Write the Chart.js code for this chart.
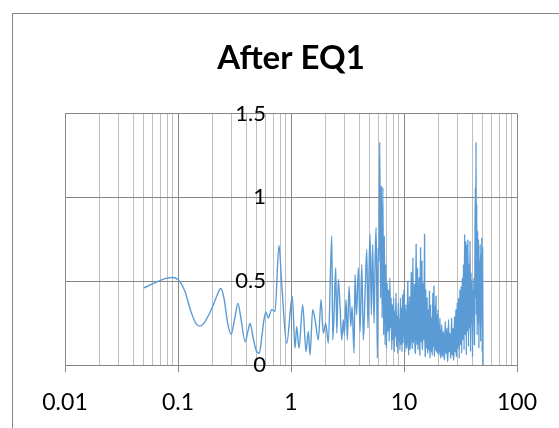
<!DOCTYPE html>
<html>
<head>
<meta charset="utf-8">
<script src="https://cdn.jsdelivr.net/npm/chart.js@4"></script>
<style>
  html, body { margin: 0; padding: 0; background: #ffffff; }
  canvas { display: block; }
</style>
</head>
<body>
<canvas id="spectrum" width="559" height="428"></canvas>
<script>
// Fourier amplitude spectrum recorded after EQ1 (frequency in Hz, amplitude).
const chartTitle = 'After EQ1';

// 0.05 - 1.1 Hz: smooth long-period part
const lowFreqHz = [0.050, 0.060, 0.070, 0.080, 0.088, 0.100, 0.115, 0.130, 0.145, 0.155,
  0.170, 0.199, 0.220, 0.239, 0.255, 0.275, 0.295, 0.318, 0.339, 0.360,
  0.393, 0.415, 0.435, 0.460, 0.490, 0.524, 0.550, 0.576, 0.600, 0.629,
  0.674, 0.722, 0.783, 0.830, 0.916, 1.027, 1.085];
const lowAmp = [0.46, 0.485, 0.505, 0.518, 0.522, 0.51, 0.44, 0.32, 0.245, 0.232,
  0.25, 0.337, 0.41, 0.456, 0.40, 0.25, 0.183, 0.28, 0.367, 0.28,
  0.139, 0.20, 0.248, 0.17, 0.09, 0.07, 0.16, 0.268, 0.317, 0.28,
  0.33, 0.32, 0.714, 0.47, 0.129, 0.41, 0.10];

// 1.1 - 6 Hz
const midFreqHz = [1.123, 1.177, 1.269, 1.358, 1.423, 1.473, 1.556, 1.632, 1.745, 1.844,
  1.932, 2.029, 2.140, 2.294, 2.341, 2.404, 2.489, 2.540, 2.624, 2.716,
  2.812, 2.906, 2.965, 3.071, 3.153, 3.265, 3.380, 3.470, 3.614, 3.685,
  3.800, 3.947, 4.086, 4.229, 4.370, 4.520, 4.683, 4.800, 4.900, 5.010,
  5.140, 5.280, 5.430, 5.550, 5.660, 5.740, 5.810, 5.900];
const midAmp = [0.23, 0.10, 0.36, 0.08, 0.20, 0.06, 0.33, 0.27, 0.15, 0.39,
  0.19, 0.25, 0.13, 0.77, 0.15, 0.31, 0.58, 0.19, 0.51, 0.35,
  0.15, 0.27, 0.18, 0.39, 0.15, 0.47, 0.23, 0.35, 0.07, 0.54,
  0.30, 0.58, 0.20, 0.60, 0.15, 0.42, 0.69, 0.22, 0.55, 0.78,
  0.30, 0.72, 0.25, 0.62, 0.82, 0.45, 0.04, 0.70];

// 6 - 10 Hz
const bandAFreqHz = [6.0, 6.1, 6.2, 6.3, 6.4, 6.5, 6.6, 6.7, 6.8, 6.9,
  7.0, 7.1, 7.2, 7.3, 7.4, 7.5, 7.6, 7.7, 7.8, 7.9,
  8.0, 8.1, 8.2, 8.3, 8.4, 8.5, 8.6, 8.7, 8.8, 8.9,
  9.0, 9.1, 9.2, 9.3, 9.4, 9.5, 9.6, 9.7, 9.8, 9.9];
const bandAAmp = [0.62, 1.33, 0.40, 1.07, 0.28, 1.06, 0.18, 0.77, 0.12, 0.60,
  0.10, 0.49, 0.20, 0.45, 0.14, 0.52, 0.22, 0.40, 0.09, 0.36,
  0.15, 0.40, 0.08, 0.32, 0.17, 0.43, 0.11, 0.29, 0.07, 0.37,
  0.14, 0.27, 0.09, 0.40, 0.12, 0.34, 0.08, 0.42, 0.13, 0.37];

// 10 - 20 Hz
const bandBFreqHz = [10.0, 10.1, 10.2, 10.3, 10.4, 10.5, 10.6, 10.7, 10.8, 10.9,
  11.0, 11.1, 11.2, 11.3, 11.4, 11.5, 11.6, 11.7, 11.8, 11.9,
  12.0, 12.1, 12.2, 12.3, 12.4, 12.5, 12.6, 12.7, 12.8, 12.9,
  13.0, 13.1, 13.2, 13.3, 13.4, 13.5, 13.6, 13.7, 13.8, 13.9,
  14.0, 14.1, 14.2, 14.3, 14.4, 14.5, 14.6, 14.7, 14.8, 14.9,
  15.0, 15.1, 15.2, 15.3, 15.4, 15.5, 15.6, 15.7, 15.8, 15.9,
  16.0, 16.1, 16.2, 16.3, 16.4, 16.5, 16.6, 16.7, 16.8, 16.9,
  17.0, 17.1, 17.2, 17.3, 17.4, 17.5, 17.6, 17.7, 17.8, 17.9,
  18.0, 18.1, 18.2, 18.3, 18.4, 18.5, 18.6, 18.7, 18.8, 18.9,
  19.0, 19.1, 19.2, 19.3, 19.4, 19.5, 19.6, 19.7, 19.8, 19.9];
const bandBAmp = [0.45, 0.18, 0.08, 0.27, 0.36, 0.10, 0.12, 0.30, 0.50, 0.16,
  0.06, 0.25, 0.41, 0.09, 0.15, 0.34, 0.55, 0.21, 0.10, 0.38,
  0.64, 0.13, 0.20, 0.31, 0.48, 0.11, 0.07, 0.40, 0.72, 0.24,
  0.12, 0.35, 0.58, 0.09, 0.18, 0.29, 0.52, 0.17, 0.06, 0.33,
  0.70, 0.22, 0.14, 0.39, 0.62, 0.12, 0.09, 0.28, 0.49, 0.15,
  0.20, 0.36, 0.78, 0.19, 0.05, 0.26, 0.45, 0.10, 0.13, 0.24,
  0.40, 0.15, 0.07, 0.22, 0.33, 0.09, 0.16, 0.27, 0.44, 0.12,
  0.04, 0.21, 0.36, 0.08, 0.11, 0.24, 0.28, 0.10, 0.06, 0.23,
  0.43, 0.11, 0.14, 0.30, 0.47, 0.13, 0.05, 0.20, 0.35, 0.09,
  0.12, 0.26, 0.41, 0.14, 0.08, 0.19, 0.30, 0.07, 0.10, 0.22];

// 20 - 30 Hz
const bandCFreqHz = [20.0, 20.2, 20.4, 20.6, 20.8, 21.0, 21.2, 21.4, 21.6, 21.8,
  22.0, 22.2, 22.4, 22.6, 22.8, 23.0, 23.2, 23.4, 23.6, 23.8,
  24.0, 24.2, 24.4, 24.6, 24.8, 25.0, 25.2, 25.4, 25.6, 25.8,
  26.0, 26.2, 26.4, 26.6, 26.8, 27.0, 27.2, 27.4, 27.6, 27.8,
  28.0, 28.2, 28.4, 28.6, 28.8, 29.0, 29.2, 29.4, 29.6, 29.8];
const bandCAmp = [0.33, 0.12, 0.06, 0.18, 0.28, 0.09, 0.04, 0.15, 0.24, 0.05,
  0.08, 0.17, 0.20, 0.06, 0.03, 0.14, 0.26, 0.10, 0.07, 0.16,
  0.22, 0.05, 0.02, 0.13, 0.27, 0.08, 0.09, 0.18, 0.19, 0.04,
  0.04, 0.15, 0.28, 0.10, 0.06, 0.17, 0.22, 0.05, 0.03, 0.14,
  0.29, 0.12, 0.08, 0.19, 0.33, 0.07, 0.05, 0.21, 0.37, 0.11];

// 30 - 50 Hz
const bandDFreqHz = [30.0, 30.4, 30.8, 31.2, 31.6,
  32.0, 32.4, 32.8, 33.2, 33.6, 34.0, 34.4, 34.8, 35.2, 35.6,
  36.0, 36.4, 36.8, 37.2, 37.6, 38.0, 38.4, 38.8, 39.2, 39.6,
  40.0, 40.4, 40.8, 41.2, 41.6, 42.0, 42.4, 42.8, 43.1, 43.4,
  43.7, 44.0, 44.4, 44.8, 45.2, 45.6, 46.0, 46.4, 46.8, 47.2,
  47.6, 48.0, 48.4, 48.8, 49.2, 49.6, 50.0];
const bandDAmp = [0.10, 0.40, 0.04, 0.45, 0.12,
  0.47, 0.07, 0.52, 0.15, 0.60, 0.09, 0.78, 0.18, 0.74, 0.06,
  0.72, 0.20, 0.75, 0.11, 0.60, 0.22, 0.74, 0.08, 0.55, 0.25,
  0.50, 0.05, 0.45, 0.30, 0.52, 0.12, 0.57, 1.06, 0.40, 1.33,
  0.30, 0.96, 0.18, 0.80, 0.25, 0.75, 0.10, 0.62, 0.30, 0.72,
  0.14, 0.66, 0.35, 0.76, 0.08, 0.70, 0.00];

// Axis labels
const xDecades = [0.01, 0.1, 1, 10, 100];
const xTickLabels = ['0.01', '0.1', '1', '10', '100'];
const yTickValues = [0, 0.5, 1, 1.5];
const yTickLabels = ['0', '0.5', '1', '1.5'];

// The value axis crosses at 1 Hz; its labels sit a little to the left of that line.
const yLabelAnchorHz = 0.6;

const freqHz = [].concat(lowFreqHz, midFreqHz, bandAFreqHz, bandBFreqHz, bandCFreqHz, bandDFreqHz);
const amplitude = [].concat(lowAmp, midAmp, bandAAmp, bandBAmp, bandCAmp, bandDAmp);
const points = freqHz.map((f, i) => ({ x: f, y: amplitude[i] }));

// 1..9 x 10^n grid positions for the log axis
const xGridValues = [];
for (let d = 0; d < xDecades.length - 1; d++) {
  for (let m = 1; m <= 9; m++) xGridValues.push(m * xDecades[d]);
}
xGridValues.push(xDecades[xDecades.length - 1]);

const decadeIndex = v => {
  for (let i = 0; i < xDecades.length; i++) {
    if (Math.abs(v - xDecades[i]) < xDecades[i] * 1e-6) return i;
  }
  return -1;
};

const MAJOR = '#878787';
const MINOR = '#bfbfbf';

const framePlugin = {
  id: 'frame',
  beforeDraw(chart) {
    const ctx = chart.ctx;
    ctx.save();
    ctx.fillStyle = '#ffffff';
    ctx.fillRect(0, 0, chart.width, chart.height);
    ctx.strokeStyle = MAJOR;
    ctx.lineWidth = 1;
    ctx.strokeRect(12.5, 13.5, chart.width + 20, chart.height + 20);
    ctx.restore();
  }
};

new Chart(document.getElementById('spectrum'), {
  type: 'line',
  data: {
    datasets: [{
      data: points,
      borderColor: '#5b9bd5',
      borderWidth: 1.4,
      pointRadius: 0,
      fill: false,
      cubicInterpolationMode: 'monotone'
    }]
  },
  options: {
    responsive: false,
    animation: false,
    events: [],
    layout: { padding: { top: 39, left: 65, right: 42, bottom: 0 } },
    plugins: {
      legend: { display: false },
      tooltip: { enabled: false },
      title: {
        display: true,
        text: chartTitle,
        color: '#000000',
        font: { family: 'Lato', size: 33, weight: 'bold' },
        padding: { top: 0, bottom: 35 }
      }
    },
    scales: {
      x: {
        type: 'logarithmic',
        min: 0.01,
        max: 100,
        afterBuildTicks: s => { s.ticks = xGridValues.map(v => ({ value: v, major: decadeIndex(v) >= 0 })); },
        afterFit: s => { s.height = 63; },
        ticks: {
          autoSkip: false,
          maxRotation: 0,
          padding: 17,
          color: '#000000',
          font: { family: 'Lato', size: 23 },
          callback: v => { const i = decadeIndex(v); return i >= 0 ? xTickLabels[i] : ''; }
        },
        grid: {
          color: c => (c.tick && decadeIndex(c.tick.value) >= 0 ? MAJOR : MINOR),
          tickColor: c => (c.tick && decadeIndex(c.tick.value) >= 0 ? MAJOR : 'rgba(0,0,0,0)'),
          tickLength: 7,
          lineWidth: 1
        },
        border: { color: MAJOR, width: 1 }
      },
      y: {
        type: 'linear',
        position: { x: yLabelAnchorHz },
        min: 0,
        max: 1.5,
        afterBuildTicks: s => { s.ticks = yTickValues.map(v => ({ value: v })); },
        ticks: {
          padding: 0,
          color: '#000000',
          font: { family: 'Lato', size: 22 },
          callback: (v, i) => yTickLabels[i]
        },
        grid: { color: MAJOR, drawTicks: false, lineWidth: 1 },
        border: { display: false }
      }
    }
  },
  plugins: [framePlugin]
});
</script>
</body>
</html>
